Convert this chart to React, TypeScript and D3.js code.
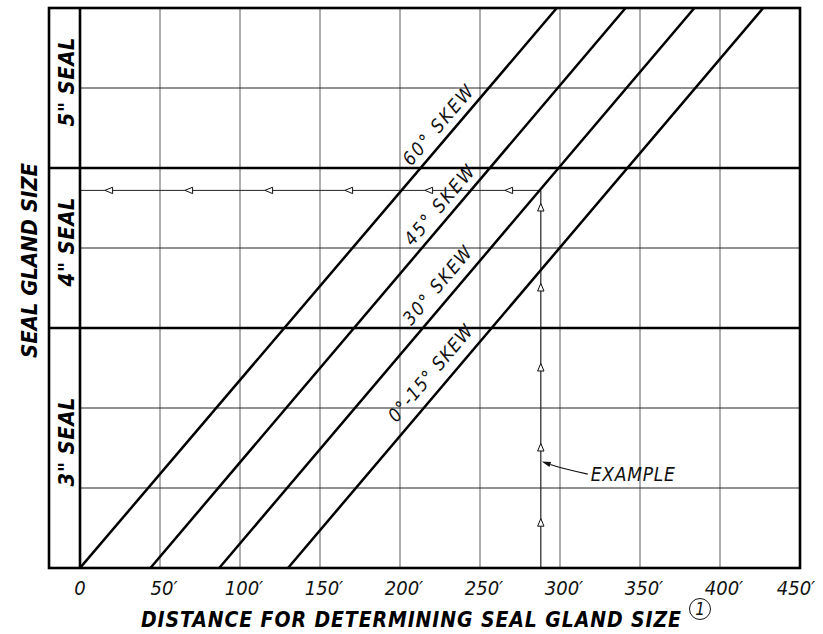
import React from 'react';
import * as d3 from 'd3';

// ---- data ----
const distanceTicks = [0, 50, 100, 150, 200, 250, 300, 350, 400, 450];
const tickLabels = ['0', '50′', '100′', '150′', '200′', '250′', '300′', '350′', '400′', '450′'];
const thinRows = [1, 2, 4, 6];
const sealBoundaryRows = [3, 5];
const sealLabels = ['3" SEAL', '4" SEAL', '5" SEAL'];
const sealFromRow = [0, 3, 5];
const sealToRow = [3, 5, 7];
const skewLabels = ['60° SKEW', '45° SKEW', '30° SKEW', '0°-15° SKEW'];
const skewStartDistance = [0, 44, 87, 130];
const skewEndDistance = [298, 341, 384, 427];
const exampleDistance = 288;
const exampleRow = 4.72;
const leftArrowDistances = [18, 68, 118, 168, 218, 268];
const upArrowRows = [4.51, 3.51, 2.51, 1.51, 0.57];
const examplePointerRow = 1.33;
const xTitle = 'DISTANCE FOR DETERMINING SEAL GLAND SIZE';
const yTitle = 'SEAL GLAND SIZE';
const exampleLabel = 'EXAMPLE';
const noteNumber = '1';

// ---- layout ----
const W = 823;
const H = 634;
const frameLeft = 49;
const skewLabelRow = [4.95, 3.95, 2.94, 1.72];
const skewLabelOffset = [8, 8, 10, 11];
const skewLabelLength = [98, 98, 96, 120];

const NARROW = '"Liberation Sans Narrow", "DejaVu Sans Condensed", "Liberation Sans", sans-serif';

export default function App() {
  const x = d3.scaleLinear().domain([0, 450]).range([80, 800]);
  const y = d3.scaleLinear().domain([0, 7]).range([568, 8]);
  const [x0, x1] = x.range();
  const [yb, yt] = y.range();

  const line = d3.line<[number, number]>().x(d => x(d[0])).y(d => y(d[1]));

  const leftTri = (cx: number, cy: number) =>
    `M${cx - 3.8},${cy} L${cx + 3.8},${cy - 3.2} L${cx + 3.8},${cy + 3.2} Z`;
  const upTri = (cx: number, cy: number) =>
    `M${cx},${cy - 3.8} L${cx - 3.2},${cy + 3.8} L${cx + 3.2},${cy + 3.8} Z`;

  // example pointer
  const tipX = x(exampleDistance) + 1;
  const tipY = y(examplePointerRow);
  const startX = tipX + 46;
  const startY = tipY + 12.5;
  const ctrlX = tipX + 20;
  const ctrlY = tipY + 7;
  const dx = tipX - ctrlX, dy = tipY - ctrlY;
  const dl = Math.hypot(dx, dy);
  const ux = dx / dl, uy = dy / dl;
  const bx = tipX - ux * 9, by = tipY - uy * 9;
  const px = -uy, py = ux;
  const arrowHead = `M${tipX},${tipY} L${bx + px * 2.6},${by + py * 2.6} L${bx - px * 2.6},${by - py * 2.6} Z`;

  return (
    <svg width={W} height={H} style={{ position: 'absolute', left: 0, top: 0, background: '#fff' }}>
      <defs>
        <clipPath id="plot">
          <rect x={x0} y={yt} width={x1 - x0} height={yb - yt} />
        </clipPath>
      </defs>
      <rect x={0} y={0} width={W} height={H} fill="#fff" />

      {/* vertical grid */}
      {distanceTicks.slice(1, -1).map(v => (
        <line key={'v' + v} x1={x(v)} x2={x(v)} y1={yt} y2={yb} stroke="#7a7a7a" strokeWidth={1.2} />
      ))}
      {/* thin horizontal grid */}
      {thinRows.map(r => (
        <line key={'h' + r} x1={x0} x2={x1} y1={y(r)} y2={y(r)} stroke="#222" strokeWidth={1} />
      ))}

      {/* example path */}
      <line x1={x0} x2={x(exampleDistance)} y1={y(exampleRow)} y2={y(exampleRow)} stroke="#222" strokeWidth={1} />
      <line x1={x(exampleDistance)} x2={x(exampleDistance)} y1={y(exampleRow)} y2={yb} stroke="#222" strokeWidth={1.2} />
      {leftArrowDistances.map(d => (
        <path key={'la' + d} d={leftTri(x(d), y(exampleRow))} fill="#fff" stroke="#111" strokeWidth={1} />
      ))}
      {upArrowRows.map(r => (
        <path key={'ua' + r} d={upTri(x(exampleDistance), y(r))} fill="#fff" stroke="#111" strokeWidth={1} />
      ))}

      {/* skew lines */}
      <g clipPath="url(#plot)">
        {skewLabels.map((s, i) => (
          <path key={'sk' + i} d={line([[skewStartDistance[i], 0], [skewEndDistance[i], 7]]) || ''}
            fill="none" stroke="#000" strokeWidth={2.5} />
        ))}
      </g>

      {/* seal boundaries */}
      {sealBoundaryRows.map(r => (
        <line key={'b' + r} x1={frameLeft} x2={x1} y1={y(r)} y2={y(r)} stroke="#000" strokeWidth={2.6} />
      ))}
      {/* frame */}
      <rect x={frameLeft} y={yt} width={x1 - frameLeft} height={yb - yt} fill="none" stroke="#000" strokeWidth={2.6} />
      <line x1={x0} x2={x0} y1={yt} y2={yb} stroke="#000" strokeWidth={2.6} />

      {/* skew labels */}
      {skewLabels.map((s, i) => {
        const ang = Math.atan2(y(7) - y(0), x(skewEndDistance[i]) - x(skewStartDistance[i])) * 180 / Math.PI;
        const r = skewLabelRow[i];
        const d = skewStartDistance[i] + (skewEndDistance[i] - skewStartDistance[i]) * r / 7;
        return (
          <text key={'sl' + i} transform={`translate(${x(d)},${y(r)}) rotate(${ang})`} y={-skewLabelOffset[i]}
            fontFamily={NARROW} fontStyle="italic" fontSize={18.5} fill="#111"
            textLength={skewLabelLength[i]} lengthAdjust="spacing">{s}</text>
        );
      })}

      {/* seal labels */}
      {sealLabels.map((s, i) => {
        const cy = (y(sealFromRow[i]) + y(sealToRow[i])) / 2 + 38.5;
        return (
          <text key={'sel' + i} transform={`translate(74,${cy}) rotate(-90)`}
            fontFamily={NARROW} fontStyle="italic" fontWeight="bold" fontSize={22} fill="#000"
            textLength={89} lengthAdjust="spacing">{s}</text>
        );
      })}

      {/* y title */}
      <text transform="translate(36.5,358) rotate(-90)" fontFamily={NARROW} fontStyle="italic" fontWeight="bold"
        fontSize={22} fill="#000" textLength={195} lengthAdjust="spacing">{yTitle}</text>

      {/* x tick labels */}
      {distanceTicks.map((v, i) => (
        <text key={'t' + v} x={Math.min(i === 0 ? x(v) : x(v) + 4, 796)} y={595} textAnchor="middle"
          fontFamily={NARROW} fontStyle="italic" fontSize={20} fill="#111">{tickLabels[i]}</text>
      ))}

      {/* x title */}
      <text x={141} y={627} fontFamily={NARROW} fontStyle="italic" fontWeight="bold" fontSize={21} fill="#000"
        textLength={540} lengthAdjust="spacing">{xTitle}</text>
      <circle cx={700} cy={609} r={10.5} fill="none" stroke="#111" strokeWidth={1} />
      <text x={700} y={615} textAnchor="middle" fontFamily={NARROW} fontStyle="italic" fontSize={17} fill="#111">{noteNumber}</text>

      {/* example pointer */}
      <path d={`M${startX},${startY} Q${ctrlX},${ctrlY} ${bx},${by}`} fill="none" stroke="#111" strokeWidth={1.1} />
      <path d={arrowHead} fill="#111" />
      <text x={startX + 3} y={481} fontFamily={NARROW} fontStyle="italic" fontSize={19} fill="#111"
        textLength={84} lengthAdjust="spacing">{exampleLabel}</text>
    </svg>
  );
}
